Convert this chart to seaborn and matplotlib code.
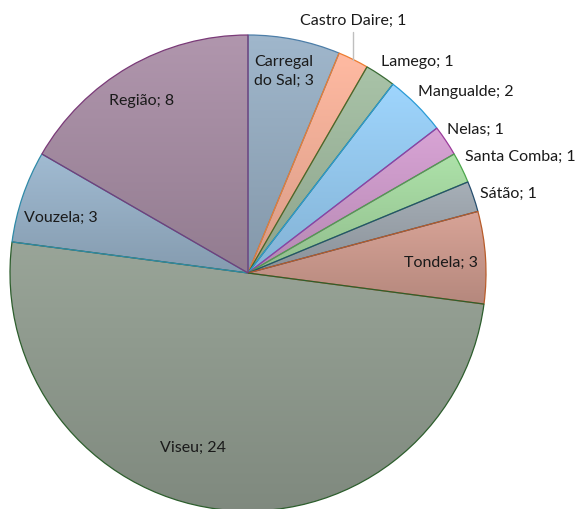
import numpy as np
import matplotlib
matplotlib.use("Agg")
import matplotlib.pyplot as plt
import matplotlib.colors as mcolors
import seaborn as sns

# data
labels = ["Carregal do Sal", "Castro Daire", "Lamego", "Mangualde", "Nelas",
          "Santa Comba", "Sátão", "Tondela", "Viseu", "Vouzela", "Região"]
values = [3, 1, 1, 2, 1, 1, 1, 3, 24, 3, 8]

# styling
face_colors = ["#93a9bd", "#f0ac95", "#9cb59b", "#92c6ec", "#c997c6",
               "#a0d29c", "#9aa2aa", "#c9978b", "#8d988c", "#94adc3", "#a38aa0"]
edge_colors = ["#4d7ea8", "#ed7d31", "#3a6b35", "#2a9bd6", "#9b3a9b",
               "#4ca64c", "#264e6e", "#b85c2a", "#2d5e2d", "#2f8aa8", "#7a3a78"]
label_mode = ["in", "line", "out", "out", "out", "out", "out", "in", "in", "in", "in"]
label_r = [0.86, 1.06, 1.05, 1.045, 1.03, 1.035, 1.03, 0.81, 0.77, 0.82, 0.85]
label_shift = [1.0, 0.0, 1.5, 1.8, 2.0, 2.0, 0.0, -0.8, -10.0, 2.5, 1.6]

sns.set_theme(style="white")
plt.rcParams["font.family"] = ["Lato", "DejaVu Sans"]

fig = plt.figure(figsize=(5.8, 5.09), dpi=100)
ax = fig.add_axes([0, 0, 1, 1])

wedges, _ = ax.pie(values, startangle=90, counterclock=False, radius=1,
                   colors=face_colors, wedgeprops=dict(linewidth=0.9))

# vertical gradient inside every slice
for w, fc, ec in zip(wedges, face_colors, edge_colors):
    w.set_edgecolor(ec)
    w.set_facecolor("none")
    w.set_zorder(3)
    verts = w.get_path().vertices
    x0, x1 = verts[:, 0].min(), verts[:, 0].max()
    y0, y1 = verts[:, 1].min(), verts[:, 1].max()
    base = np.array(mcolors.to_rgb(fc))
    top = np.clip(base * 1.05 + 0.02, 0, 1)
    bot = np.clip(base * 0.9, 0, 1)
    t = np.linspace(0, 1, 64)[:, None]
    grad = (top * (1 - t) + bot * t)[:, None, :]
    im = ax.imshow(grad, extent=(x0, x1, y0, y1), origin="upper",
                   aspect="auto", zorder=2, interpolation="bilinear")
    im.set_clip_path(w)

txt_kw = dict(fontsize=11.5, color="#1a1a1a", zorder=5)
for w, name, v, mode, r, sh in zip(wedges, labels, values, label_mode, label_r, label_shift):
    mid = np.deg2rad((w.theta1 + w.theta2) / 2 + sh)
    text = f"{name}; {v}"
    if name == "Carregal do Sal":
        text = "Carregal\ndo Sal; 3"
    if mode == "in":
        ax.text(r * np.cos(mid), r * np.sin(mid), text, ha="center", va="center",
                multialignment="left", linespacing=1.4, **txt_kw)
    elif mode == "out":
        ax.text(r * np.cos(mid), r * np.sin(mid), text, ha="left", va="center", **txt_kw)
    else:
        xm, ym = np.cos(mid), np.sin(mid)
        ax.plot([xm, xm], [ym, 1.012], color="#bfbfbf", lw=1, zorder=4)
        ax.text(xm, r, text, ha="center", va="center", **txt_kw)

ax.set_xlim(-248 / 238, 332 / 238)
ax.set_ylim(-236 / 238, 273 / 238)
ax.set_aspect("auto")
ax.axis("off")

fig.savefig("out.png", dpi=100)
